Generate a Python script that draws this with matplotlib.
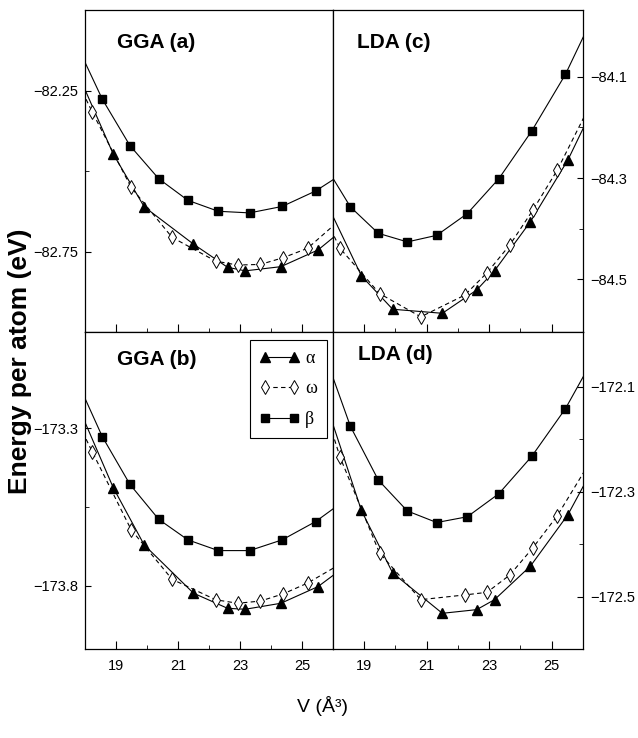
import matplotlib
matplotlib.use("Agg")
import matplotlib.pyplot as plt

# volumes (A^3) of the computed points, shared by all four panels;
# the first and last entries lie just outside the plotted range
v_alpha = [17.6, 18.91, 19.91, 21.50, 22.60, 23.17, 24.32, 25.52, 26.6]
v_omega = [17.6, 18.23, 19.49, 20.81, 22.22, 22.93, 23.66, 24.40, 25.18, 26.6]
v_beta = [17.6, 18.56, 19.45, 20.38, 21.32, 22.30, 23.31, 24.36, 25.44, 26.6]

# GGA (a)
gga_a_alpha = [-82.159, -82.447, -82.611, -82.727, -82.799, -82.810, -82.797, -82.745, -82.66]
gga_a_omega = [-82.19, -82.316, -82.551, -82.706, -82.780, -82.792, -82.790, -82.769, -82.740, -82.62]
gga_a_beta = [-82.08, -82.277, -82.421, -82.524, -82.591, -82.625, -82.630, -82.610, -82.562, -82.49]
# LDA (c)
lda_c_alpha = [-84.324, -84.493, -84.559, -84.567, -84.521, -84.483, -84.386, -84.264, -84.126]
lda_c_omega = [-84.36, -84.439, -84.528, -84.574, -84.531, -84.487, -84.432, -84.363, -84.284, -84.11]
lda_c_beta = [-84.26, -84.357, -84.409, -84.426, -84.413, -84.370, -84.301, -84.207, -84.095, -83.945]
# GGA (b)
gga_b_alpha = [-173.19, -173.488, -173.670, -173.823, -173.871, -173.874, -173.855, -173.802, -173.723]
gga_b_omega = [-173.246, -173.374, -173.622, -173.779, -173.844, -173.855, -173.848, -173.825, -173.791, -173.71]
gga_b_beta = [-173.118, -173.327, -173.478, -173.589, -173.654, -173.688, -173.688, -173.654, -173.596, -173.513]
# LDA (d)
lda_d_alpha = [-172.1, -172.336, -172.455, -172.532, -172.525, -172.506, -172.442, -172.344, -172.225]
lda_d_omega = [-172.116, -172.235, -172.417, -172.506, -172.497, -172.492, -172.459, -172.407, -172.346, -172.207]
lda_d_beta = [-172.016, -172.176, -172.278, -172.337, -172.359, -172.348, -172.304, -172.233, -172.142, -172.018]

x_major = [19, 21, 23, 25]
x_minor = [20, 22, 24]

sans = ['Liberation Sans', 'DejaVu Sans']

fig = plt.figure(figsize=(6.38, 7.38), dpi=100)

# [left, bottom, width, height], title, ylim, major, minor, side, data, title pos
panels = [
    ([0.1332, 0.5501, 0.3887, 0.4363], 'GGA (a)', (-83.0, -82.0), [-82.25, -82.75], [-82.5], 'left',
     gga_a_alpha, gga_a_omega, gga_a_beta, (0.129, 0.929)),
    ([0.5219, 0.5501, 0.3918, 0.4363], 'LDA (c)', (-84.604, -83.968), [-84.1, -84.3, -84.5], [-84.2, -84.4], 'right',
     lda_c_alpha, lda_c_omega, lda_c_beta, (0.095, 0.929)),
    ([0.1332, 0.1206, 0.3887, 0.4295], 'GGA (b)', (-174.0, -172.995), [-173.3, -173.8], [-173.55], 'left',
     gga_b_alpha, gga_b_omega, gga_b_beta, (0.128, 0.943)),
    ([0.5219, 0.1206, 0.3918, 0.4295], 'LDA (d)', (-172.6, -171.996), [-172.1, -172.3, -172.5], [-172.2, -172.4], 'right',
     lda_d_alpha, lda_d_omega, lda_d_beta, (0.10, 0.959)),
]

axes = []
for rect, title, ylim, ymaj, ymin, side, ea, eo, eb, tpos in panels:
    ax = fig.add_axes(rect)
    la, = ax.plot(v_alpha, ea, color='black', lw=0.8, marker='^', ms=6.5, mfc='black', mec='black')
    lo, = ax.plot(v_omega, eo, color='black', lw=0.8, ls=(0, (4, 3)), marker='d', ms=7.5,
                  mfc='white', mec='black', mew=0.7)
    lb, = ax.plot(v_beta, eb, color='black', lw=0.8, marker='s', ms=5.5, mfc='black', mec='black')
    ax.set_xlim(18, 26)
    ax.set_ylim(*ylim)
    ax.set_xticks(x_major)
    ax.set_xticks(x_minor, minor=True)
    ax.set_yticks(ymaj, labels=[f"{t:g}".replace('-', '\u2212') for t in ymaj])
    ax.set_yticks(ymin, minor=True)
    if side == 'right':
        ax.yaxis.tick_right()
    ax.tick_params(axis='both', which='both', direction='in', color='black')
    ax.tick_params(axis='x', which='major', length=5.5, pad=7)
    ax.tick_params(axis='x', which='minor', length=3)
    ax.tick_params(axis='y', which='major', length=4, pad=5)
    ax.tick_params(axis='y', which='minor', length=3)
    for s in ax.spines.values():
        s.set_linewidth(0.9)
    for lab in ax.get_yticklabels() + ax.get_xticklabels():
        lab.set_family(sans)
        lab.set_fontsize(10.5)
    if rect[1] > 0.5:
        ax.set_xticklabels([])
    ax.text(tpos[0], tpos[1], title, transform=ax.transAxes, ha='left', va='top',
            fontsize=15, fontweight='bold', family=sans)
    axes.append((ax, la, lo, lb))

ax, la, lo, lb = axes[2]
leg = ax.legend([la, lo, lb], ['\u03b1', '\u03c9', '\u03b2'], loc='upper right',
                bbox_to_anchor=(0.976, 0.975), borderaxespad=0, numpoints=2, handlelength=2.2,
                handletextpad=0.3, labelspacing=0.75, borderpad=0.55,
                fancybox=False, framealpha=1, edgecolor='black',
                prop={'family': ['Liberation Serif', 'DejaVu Serif'], 'size': 13})
leg.get_frame().set_linewidth(0.8)

fig.text(0.031, 0.511, 'Energy per atom (eV)', rotation=90, ha='center', va='center',
         fontsize=19, fontweight='bold', family=sans)
fig.text(0.506, 0.044, 'V (\u00c5\u00b3)', ha='center', va='center', fontsize=14, family=sans)

fig.savefig('out.png', dpi=100)
